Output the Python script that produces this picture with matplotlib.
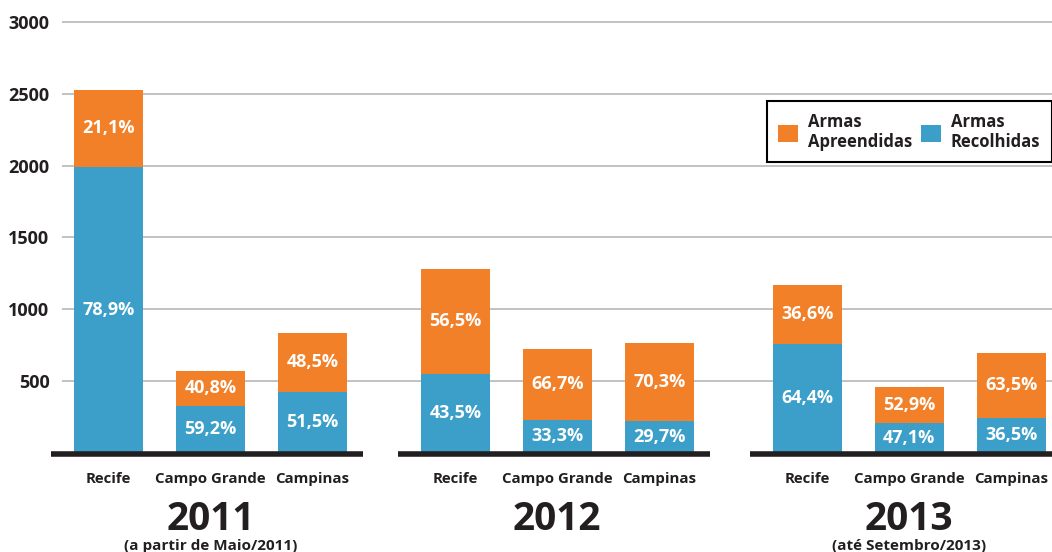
import matplotlib
matplotlib.use("Agg")
import matplotlib.pyplot as plt
from matplotlib.patches import Patch
from matplotlib.transforms import blended_transform_factory

plt.rcParams['font.family'] = ['Open Sans', 'DejaVu Sans']

cities = ["Recife", "Campo Grande", "Campinas"]
years = ["2011", "2012", "2013"]
year_notes = ["(a partir de Maio/2011)", "", "(até Setembro/2013)"]

recolhidas = [1992, 328, 425, 550, 231, 221, 758, 207, 245]
apreendidas = [534, 242, 411, 730, 492, 544, 412, 251, 450]
recolhidas_pct = ["78,9%", "59,2%", "51,5%", "43,5%", "33,3%", "29,7%", "64,4%", "47,1%", "36,5%"]
apreendidas_pct = ["21,1%", "40,8%", "48,5%", "56,5%", "66,7%", "70,3%", "36,6%", "52,9%", "63,5%"]
yticks = [500, 1000, 1500, 2000, 2500, 3000]

BLUE = "#3B9FCA"
ORANGE = "#F28028"
DARK = "#231F20"

group_starts = [0.0, 3.4, 6.85]
xs = [g + i for g in group_starts for i in range(3)]
width = 0.676

W, H = 1052, 552
fig = plt.figure(figsize=(W / 100, H / 100), dpi=100)
y0_px = 452.8
ppu = 0.1436
ytop = 3100
top_px = y0_px - ytop * ppu
ax = fig.add_axes([62 / W, 1 - y0_px / H, 1 - 62 / W, (y0_px - top_px) / H])
ax.set_xlim((62 - 108.5) / 102, (1052 - 108.5) / 102)
ax.set_ylim(0, ytop)

for y in yticks:
    ax.axhline(y, color="#BDBDBD", lw=1.3, zorder=0)

ax.bar(xs, recolhidas, width=width, color=BLUE, zorder=2)
ax.bar(xs, apreendidas, width=width, bottom=recolhidas, color=ORANGE, zorder=2)

for x, b, o, bl, ol in zip(xs, recolhidas, apreendidas, recolhidas_pct, apreendidas_pct):
    ax.text(x, b / 2, bl, ha="center", va="center", color="white",
            fontsize=13, fontweight="bold", zorder=3)
    ax.text(x, b + o / 2, ol, ha="center", va="center", color="white",
            fontsize=13, fontweight="bold", zorder=3)

# baseline segments per group
for g in group_starts:
    left = g - width / 2 - 0.225
    right = g + 2 + width / 2 + 0.16
    ax.plot([left, right], [-8, -8], color=DARK, lw=4.0, solid_capstyle="butt",
            clip_on=False, zorder=4)

ax.set_yticks(yticks)
ax.set_yticklabels([str(v) for v in yticks], fontsize=13, fontweight="bold", color=DARK)
ax.tick_params(axis="y", length=0, pad=9)
ax.set_xticks(xs)
ax.set_xticklabels(cities * 3, fontsize=10.8, fontweight="bold", color=DARK)
ax.tick_params(axis="x", length=0, pad=14)
for s in ax.spines.values():
    s.set_visible(False)

trans = blended_transform_factory(ax.transData, fig.transFigure)
for g, yr, note in zip(group_starts, years, year_notes):
    ax.text(g + 1, 1 - 520 / H, yr, transform=trans, ha="center", va="center",
            fontsize=28, fontweight="bold", color=DARK)
    if note:
        ax.text(g + 1, 1 - 546 / H, note, transform=trans, ha="center", va="center",
                fontsize=11, fontweight="bold", color=DARK)

handles = [Patch(facecolor=ORANGE, edgecolor="none"), Patch(facecolor=BLUE, edgecolor="none")]
leg = fig.legend(handles, ["Armas\nApreendidas", "Armas\nRecolhidas"], ncol=2,
                 loc="upper right", bbox_to_anchor=(1.0, 1 - 101 / H),
                 frameon=True, fancybox=False, edgecolor="black", framealpha=1,
                 prop={"size": 12, "weight": "bold"}, handlelength=1.2, handleheight=1.2,
                 handletextpad=0.6, columnspacing=0.5, borderpad=0.7, labelcolor=DARK,
                 borderaxespad=0)
leg.get_frame().set_linewidth(1.5)
for t in leg.get_texts():
    t.set_linespacing(1.15)

fig.savefig("out.png", dpi=100)
